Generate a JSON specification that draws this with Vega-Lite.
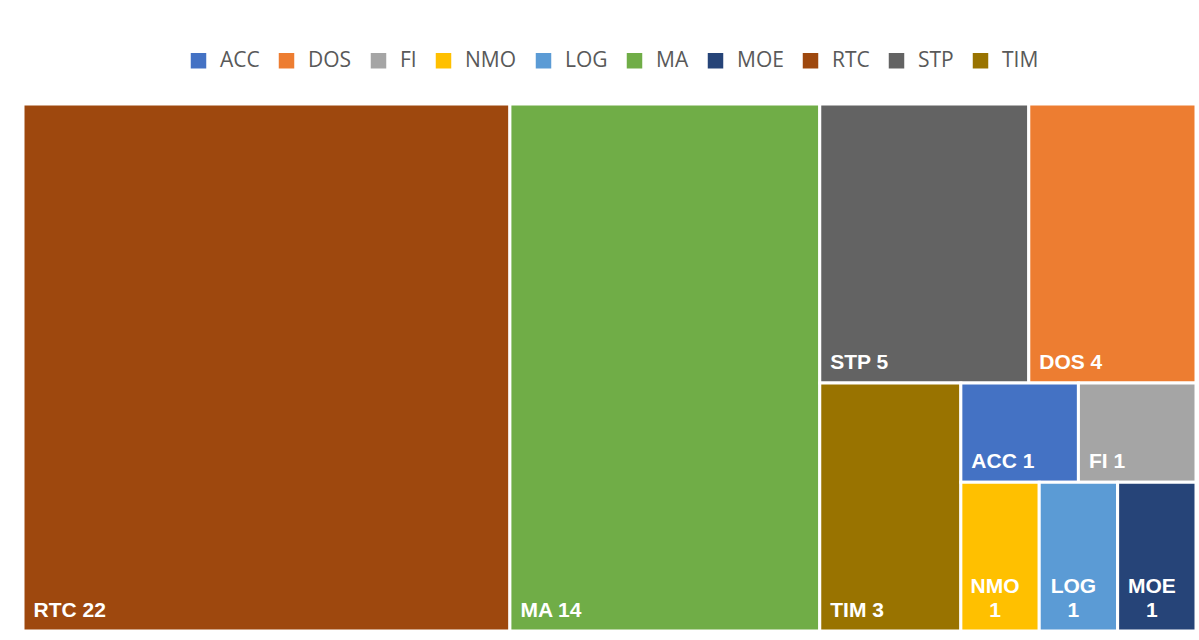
{
  "$schema": "https://vega.github.io/schema/vega-lite/v6.json",
  "width": 1173,
  "height": 527,
  "autosize": {"type": "none"},
  "padding": {"left": 23, "top": 104, "right": 3, "bottom": 9},
  "background": "white",
  "config": {"view": {"stroke": null}},
  "data": {
    "values": [
      {"name": "RTC", "value": 22, "p1": "1", "p2": "1", "p3": "1", "p4": "1", "p5": "1"},
      {"name": "MA", "value": 14, "p1": "2", "p2": "1", "p3": "1", "p4": "1", "p5": "1"},
      {"name": "STP", "value": 5, "p1": "3", "p2": "1", "p3": "1", "p4": "1", "p5": "1"},
      {"name": "DOS", "value": 4, "p1": "3", "p2": "1", "p3": "2", "p4": "1", "p5": "1"},
      {"name": "TIM", "value": 3, "p1": "3", "p2": "2", "p3": "1", "p4": "1", "p5": "1"},
      {"name": "ACC", "value": 1, "p1": "3", "p2": "2", "p3": "2", "p4": "1", "p5": "1"},
      {"name": "FI", "value": 1, "p1": "3", "p2": "2", "p3": "2", "p4": "1", "p5": "2"},
      {"name": "NMO", "value": 1, "p1": "3", "p2": "2", "p3": "2", "p4": "2", "p5": "1"},
      {"name": "LOG", "value": 1, "p1": "3", "p2": "2", "p3": "2", "p4": "2", "p5": "2"},
      {"name": "MOE", "value": 1, "p1": "3", "p2": "2", "p3": "2", "p4": "2", "p5": "3"}
    ]
  },
  "transform": [
    {"stack": "value", "groupby": [], "sort": [{"field": "p1"}, {"field": "p2"}, {"field": "p3"}, {"field": "p4"}, {"field": "p5"}], "as": ["s1a", "s1b"], "offset": "normalize"},
    {"joinaggregate": [{"op": "min", "field": "s1a", "as": "ax0"}, {"op": "max", "field": "s1b", "as": "ax1"}], "groupby": ["p1"]},
    {"stack": "value", "groupby": ["p1"], "sort": [{"field": "p2"}, {"field": "p3"}, {"field": "p4"}, {"field": "p5"}], "as": ["s2a", "s2b"], "offset": "normalize"},
    {"joinaggregate": [{"op": "min", "field": "s2a", "as": "ay0"}, {"op": "max", "field": "s2b", "as": "ay1"}], "groupby": ["p1", "p2"]},
    {"stack": "value", "groupby": ["p1", "p2"], "sort": [{"field": "p3"}, {"field": "p4"}, {"field": "p5"}], "as": ["s3a", "s3b"], "offset": "normalize"},
    {"joinaggregate": [{"op": "min", "field": "s3a", "as": "f3a"}, {"op": "max", "field": "s3b", "as": "f3b"}], "groupby": ["p1", "p2", "p3"]},
    {"calculate": "datum.ax0 + datum.f3a * (datum.ax1 - datum.ax0)", "as": "bx0"},
    {"calculate": "datum.ax0 + datum.f3b * (datum.ax1 - datum.ax0)", "as": "bx1"},
    {"stack": "value", "groupby": ["p1", "p2", "p3"], "sort": [{"field": "p4"}, {"field": "p5"}], "as": ["s4a", "s4b"], "offset": "normalize"},
    {"joinaggregate": [{"op": "min", "field": "s4a", "as": "f4a"}, {"op": "max", "field": "s4b", "as": "f4b"}], "groupby": ["p1", "p2", "p3", "p4"]},
    {"calculate": "datum.ay0 + datum.f4a * (datum.ay1 - datum.ay0)", "as": "y0"},
    {"calculate": "datum.ay0 + datum.f4b * (datum.ay1 - datum.ay0)", "as": "y1"},
    {"stack": "value", "groupby": ["p1", "p2", "p3", "p4"], "sort": [{"field": "p5"}], "as": ["s5a", "s5b"], "offset": "normalize"},
    {"calculate": "datum.bx0 + datum.s5a * (datum.bx1 - datum.bx0)", "as": "x0"},
    {"calculate": "datum.bx0 + datum.s5b * (datum.bx1 - datum.bx0)", "as": "x1"},
    {"calculate": "(datum.x0 + datum.x1) / 2", "as": "xm"},
    {"calculate": "datum.name + ' ' + datum.value", "as": "label"}
  ],
  "layer": [
    {
      "mark": {"type": "rect", "stroke": "white", "strokeWidth": 3},
      "encoding": {
        "x": {"field": "x0", "type": "quantitative", "scale": {"domain": [0, 1], "nice": false, "zero": false}, "axis": null},
        "x2": {"field": "x1"},
        "y": {"field": "y0", "type": "quantitative", "scale": {"domain": [0, 1], "nice": false, "zero": false, "reverse": true}, "axis": null},
        "y2": {"field": "y1"},
        "color": {
          "field": "name",
          "type": "nominal",
          "scale": {
            "domain": ["ACC", "DOS", "FI", "NMO", "LOG", "MA", "MOE", "RTC", "STP", "TIM"],
            "range": ["#4472C4", "#ED7D31", "#A5A5A5", "#FFC000", "#5B9BD5", "#70AD47", "#264478", "#9E480E", "#636363", "#997300"]
          },
          "legend": {
            "title": null,
            "orient": "none",
            "direction": "horizontal",
            "legendX": 165,
            "legendY": -54,
            "symbolType": "square",
            "symbolSize": 240,
            "symbolStrokeWidth": 0,
            "labelFont": "Open Sans",
            "labelFontSize": 21,
            "labelColor": "#595959",
            "labelOffset": 11,
            "columnPadding": 16,
            "labelLimit": 200
          }
        }
      }
    },
    {
      "transform": [{"filter": "datum.x1 - datum.x0 >= 0.08"}],
      "mark": {"type": "text", "font": "Liberation Sans", "fontWeight": "bold", "fontSize": 21, "fill": "white", "align": "left", "baseline": "alphabetic", "dx": 10.5, "dy": -14},
      "encoding": {
        "x": {"field": "x0", "type": "quantitative", "scale": {"domain": [0, 1], "nice": false, "zero": false}, "axis": null},
        "y": {"field": "y1", "type": "quantitative", "scale": {"domain": [0, 1], "nice": false, "zero": false, "reverse": true}, "axis": null},
        "text": {"field": "label"}
      }
    },
    {
      "transform": [{"filter": "datum.x1 - datum.x0 < 0.08"}],
      "mark": {"type": "text", "font": "Liberation Sans", "fontWeight": "bold", "fontSize": 21, "fill": "white", "align": "center", "baseline": "alphabetic", "lineBreak": " ", "lineHeight": 24, "dx": -5, "dy": -38},
      "encoding": {
        "x": {"field": "xm", "type": "quantitative", "scale": {"domain": [0, 1], "nice": false, "zero": false}, "axis": null},
        "y": {"field": "y1", "type": "quantitative", "scale": {"domain": [0, 1], "nice": false, "zero": false, "reverse": true}, "axis": null},
        "text": {"field": "label"}
      }
    }
  ]
}
